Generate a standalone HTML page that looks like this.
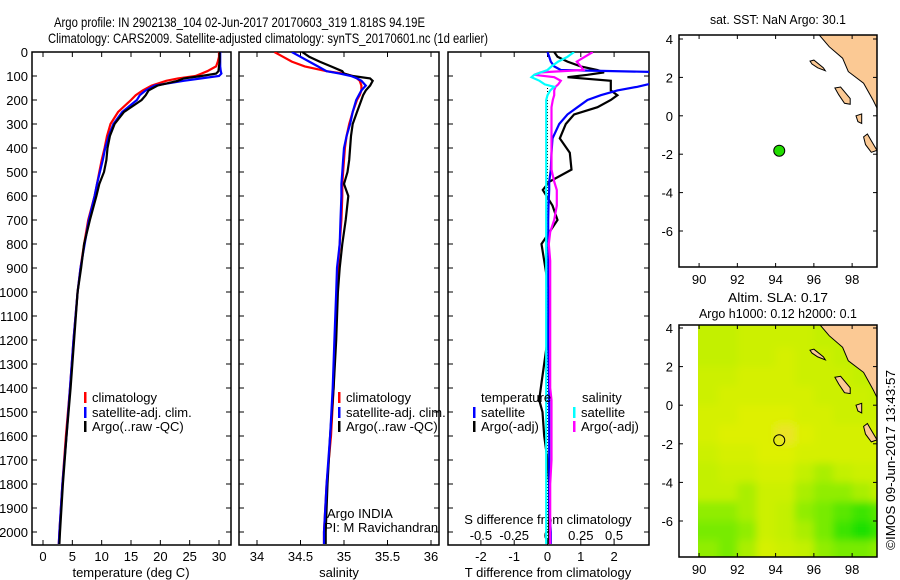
<!DOCTYPE html>
<html><head><meta charset="utf-8"><style>
html,body{margin:0;padding:0;background:#fff;}
svg{display:block;font-family:"Liberation Sans",sans-serif;}
</style></head><body>
<svg id="fig" width="900" height="580" viewBox="0 0 900 580" xmlns="http://www.w3.org/2000/svg">
<text x="54" y="27" font-size="14" textLength="371" lengthAdjust="spacingAndGlyphs">Argo profile: IN 2902138_104 02-Jun-2017 20170603_319 1.818S 94.19E</text>
<text x="48" y="43" font-size="14" textLength="440" lengthAdjust="spacingAndGlyphs">Climatology: CARS2009. Satellite-adjusted climatology: synTS_20170601.nc (1d earlier)</text>
<text x="778" y="24" font-size="13" text-anchor="middle" textLength="136" lengthAdjust="spacingAndGlyphs">sat. SST: NaN Argo: 30.1</text>
<text x="778" y="302" font-size="13" text-anchor="middle" textLength="100" lengthAdjust="spacingAndGlyphs">Altim. SLA: 0.17</text>
<text x="778" y="318" font-size="13" text-anchor="middle" textLength="158" lengthAdjust="spacingAndGlyphs">Argo h1000: 0.12 h2000: 0.1</text>
<text transform="translate(895,460) rotate(-90)" font-size="13" text-anchor="middle" textLength="180" lengthAdjust="spacingAndGlyphs">©IMOS 09-Jun-2017 13:43:57</text>
<defs><filter id="blur" x="-5%" y="-5%" width="110%" height="110%"><feGaussianBlur stdDeviation="4"/></filter></defs>
<g id="layer"></g>
</svg>
<script>
// ---------- data ----------
const depths = [0,20,40,60,80,90,100,110,120,140,160,180,200,250,300,350,400,450,500,550,600,700,800,900,1000,1200,1400,1600,1800,2000,2050];
const tempClim = [30,30,29.8,29.5,28,27,26,23,21,18.5,17,15.8,15,12.8,11.5,10.9,10.5,10,9.6,9.2,8.8,7.7,7.0,6.4,5.9,5.2,4.6,3.9,3.3,2.8,2.7];
const tempSat  = [30.2,30.2,30.2,30.2,30.3,30.4,30,27,24,19,17.5,16.5,16,13.5,12,11.2,10.6,10.2,9.7,9.2,8.8,7.8,7.1,6.4,5.9,5.2,4.6,4,3.3,2.8,2.7];
const tempArgo = [30.1,30.1,30.1,30.0,29.9,29.5,27,24,23,19.5,18,17.5,16.8,13.8,12.2,11.4,11,10.8,10.4,9.6,9.1,8,7,6.5,5.9,5.3,4.7,4,3.4,2.9,2.8];
const salClim = [34.2,34.3,34.4,34.55,34.8,35.0,35.1,35.15,35.18,35.2,35.2,35.18,35.15,35.1,35.06,35.03,35.01,35.0,34.99,34.98,34.98,34.97,34.95,34.93,34.92,34.9,34.88,34.85,34.8,34.77,34.77];
const salSat  = [34.4,34.5,34.6,34.7,34.8,34.95,35.08,35.15,35.2,35.25,35.2,35.17,35.14,35.1,35.07,35.03,35.0,34.99,34.98,34.97,34.97,34.96,34.95,34.92,34.91,34.89,34.87,34.84,34.8,34.77,34.77];
const salArgo = [34.52,34.6,34.72,34.85,34.98,35.0,35.1,35.3,35.33,35.3,35.25,35.22,35.2,35.15,35.1,35.08,35.07,35.06,35.04,35.0,35.05,35.02,34.98,34.95,34.93,34.91,34.88,34.84,34.81,34.79,34.79];

const diffDepths = [0,20,40,60,75,85,95,105,120,135,145,160,180,200,230,260,300,360,420,490,540,575,640,700,750,800,870,1000,1200,1400,1450,1500,1600,1700,1800,1900,2000,2050];
const tdSat  = [0,0.05,0.1,0.2,0.4,3.8,4,4,3.8,3,2.7,2.1,1.6,1.2,0.9,0.6,0.35,0.15,0.12,0.1,0.05,0.05,0.03,0.02,0.02,0.02,0.02,0.02,0.02,0.05,0.05,0.05,0.05,0.05,0.05,0.05,0.1,0.1];
const tdArgo = [0.2,0.3,0.6,1,1.5,1.7,1.2,0.6,1.9,1.9,1.9,1.9,2.1,1.9,1.5,0.8,0.55,0.37,0.67,0.72,0.06,-0.14,0.15,0.3,0.06,-0.18,-0.1,0.05,0,-0.2,-0.25,-0.15,-0.1,0,0.05,0.05,0.05,0.05];
const sdSat  = [0.2,0.15,0.08,0.03,0,-0.05,-0.1,-0.12,-0.06,-0.02,0.05,0.02,0,-0.01,-0.01,-0.01,-0.01,-0.01,-0.01,-0.01,-0.01,-0.01,-0.01,-0.01,-0.01,-0.01,-0.01,-0.01,-0.01,-0.01,-0.01,-0.01,-0.01,-0.01,-0.01,-0.01,-0.01,-0.01];
const sdArgo = [0.34,0.28,0.22,0.25,0.27,-0.05,-0.1,0.05,0.1,0.08,0.06,0.05,0.05,0.04,0.03,0.03,0.03,0.03,0.03,0.03,0.05,0.07,0.07,0.05,0.02,0.01,0.02,0.02,0.02,0.02,0.03,0.03,0.03,0.03,0.02,0.02,0.02,0.02];

const depthTicks = [0,100,200,300,400,500,600,700,800,900,1000,1100,1200,1300,1400,1500,1600,1700,1800,1900,2000];
const tempTicks = [0,5,10,15,20,25,30];
const salTicks = [34,34.5,35,35.5,36];
const tdTicks = [-2,-1,0,1,2];
const sdTicks = [-0.5,-0.25,0,0.25,0.5];
const sdTickLabels = ["-0.5","-0.25","0","0.25","0.5"];
const lonTicks = [90,92,94,96,98];
const latTicks = [4,2,0,-2,-4,-6];

const argoLon = 94.19, argoLat = -1.818;
const slaLons = [90,91,92,93,94,95,96,97,98,99];
const slaLats = [4,3,2,1,0,-1,-2,-3,-4,-5,-6,-7];
const slaRow4  = [.15,.15,.16,.16,.16,.16,.15,.15,.15,.15];
const slaRow3  = [.15,.15,.16,.16,.17,.16,.16,.15,.15,.15];
const slaRow2  = [.16,.16,.17,.17,.17,.16,.16,.16,.15,.15];
const slaRow1  = [.16,.17,.17,.17,.17,.17,.16,.16,.16,.15];
const slaRow0  = [.17,.17,.18,.18,.18,.17,.17,.16,.16,.16];
const slaRowM1 = [.17,.18,.18,.18,.19,.18,.17,.17,.17,.17];
const slaRowM2 = [.16,.17,.17,.18,.18,.17,.17,.17,.17,.17];
const slaRowM3 = [.15,.16,.16,.17,.17,.15,.14,.15,.16,.16];
const slaRowM4 = [.15,.15,.14,.16,.16,.14,.13,.13,.14,.15];
const slaRowM5 = [.13,.13,.14,.16,.15,.13,.12,.11,.10,.11];
const slaRowM6 = [.12,.12,.13,.16,.15,.14,.12,.10,.09,.10];
const slaRowM7 = [.13,.12,.14,.17,.16,.15,.13,.12,.12,.13];
const slaGrid = [slaRow4,slaRow3,slaRow2,slaRow1,slaRow0,slaRowM1,slaRowM2,slaRowM3,slaRowM4,slaRowM5,slaRowM6,slaRowM7];

const sumatra = [[96.2,4.3],[96.8,3.6],[97.5,3.0],[97.8,2.3],[98.6,1.7],[99.1,0.8],[99.4,0.2],[99.4,4.3]];
const simeulue = [[95.8,2.85],[96.0,2.9],[96.5,2.5],[96.6,2.35],[96.2,2.5],[95.9,2.7]];
const nias = [[97.1,1.45],[97.4,1.5],[97.9,0.9],[97.9,0.6],[97.6,0.65],[97.3,1.1]];
const batu = [[98.2,0.0],[98.5,0.1],[98.5,-0.4],[98.3,-0.3]];
const siberut = [[98.6,-1.1],[98.8,-0.95],[99.0,-1.3],[99.3,-1.8],[99.0,-1.9],[98.7,-1.5]];
const islands = [sumatra,simeulue,nias,batu,siberut];

// ---------- helpers ----------
const NS = "http://www.w3.org/2000/svg";
const layer = document.getElementById('layer');
function mk(tag, attrs, parent){ const e=document.createElementNS(NS,tag); for(const k in attrs) e.setAttribute(k,attrs[k]); (parent||layer).appendChild(e); return e; }
const TOP=52, BOT=545;
const yD = d => TOP + d*0.24;
const xT = v => 43 + v*5.867;
const xS = v => 257 + (v-34)*87;
const xTD = v => 547.5 + v*33.3;
const xSD = v => 547.5 + v*133.2;
const xLon = v => 679 + (v-88.95)*19.13;
const yLat1 = v => 39 + (4-v)*19.2;
const yLat2 = v => 328 + (4-v)*19.3;

function frame(x0,x1,name){
  const r=mk('rect',{x:x0,y:TOP,width:x1-x0,height:BOT-TOP,fill:'none',stroke:'#000','stroke-width':1.5});
  
  
}
function clip(id,x0,y0,x1,y1){
  const cp=mk('clipPath',{id:id}); mk('rect',{x:x0,y:y0,width:x1-x0,height:y1-y0},cp);
}
function profile(ds, vals, fx, color, name, clipId){
  let d='';
  vals.forEach((v,i)=>{ d += (i?'L':'M')+fx(v).toFixed(1)+','+yD(ds[i]).toFixed(1); });
  const p=mk('path',{d:d,fill:'none',stroke:color,'stroke-width':2.2,'clip-path':'url(#'+clipId+')'});
  
  
}
function label(x,y,t,name,anchor,size){
  const e=mk('text',{x:x,y:y,'font-size':size||13,'text-anchor':anchor||'middle'});
  e.textContent=t;
  
  
  return e;
}
function xticks(vals, fx, labels, name, yLab){
  vals.forEach((v,i)=>{
    const x=fx(v);
    mk('line',{x1:x,y1:BOT,x2:x,y2:BOT-5,stroke:'#000'});
    mk('line',{x1:x,y1:TOP,x2:x,y2:TOP+5,stroke:'#000'});
    label(x,yLab,labels?labels[i]:String(v),name);
  });
}

// ---------- panel frames ----------
clip('c1',32,TOP,231,BOT); clip('c2',239,TOP,439,BOT); clip('c3',448,TOP,649,BOT);
frame(32,231,'temperature-panel'); frame(239,439,'salinity-panel'); frame(448,649,'difference-panel');

depthTicks.forEach(d=>{
  const y=yD(d);
  [[32,37],[226,231],[239,244],[434,439],[448,453],[644,649]].forEach(s=>mk('line',{x1:s[0],y1:y,x2:s[1],y2:y,stroke:'#000'}));
  label(28,y+5,String(d),'depth-tick-label','end');
});
xticks(tempTicks,xT,null,'temperature-tick-label',561);
xticks(salTicks,xS,null,'salinity-tick-label',561);
xticks(tdTicks,xTD,null,'t-diff-tick-label',561);
sdTicks.forEach((v,i)=>{ label(xSD(v),540,sdTickLabels[i],'s-diff-tick-label'); });
label(131,577,'temperature (deg C)','temperature-axis-title');
label(339,577,'salinity','salinity-axis-title');
label(548,577,'T difference from climatology','t-diff-axis-title');
label(548,524,'S difference from climatology','s-diff-axis-title');

const z=mk('line',{x1:xTD(0),y1:yD(150),x2:xTD(0),y2:BOT,stroke:'#000','stroke-dasharray':'1,2'});



// ---------- profiles ----------
profile(depths,tempClim,xT,'#ff0000','temp-climatology-line','c1');
profile(depths,tempSat,xT,'#0000ff','temp-satellite-line','c1');
profile(depths,tempArgo,xT,'#000000','temp-argo-line','c1');
profile(depths,salClim,xS,'#ff0000','sal-climatology-line','c2');
profile(depths,salArgo,xS,'#000000','sal-argo-line','c2');
profile(depths,salSat,xS,'#0000ff','sal-satellite-line','c2');
profile(diffDepths,tdArgo,xTD,'#000000','t-diff-argo-line','c3');
profile(diffDepths,tdSat,xTD,'#0000ff','t-diff-satellite-line','c3');
profile(diffDepths,sdArgo,xSD,'#ff00ff','s-diff-argo-line','c3');
profile(diffDepths,sdSat,xSD,'#00ffff','s-diff-satellite-line','c3');

// ---------- legends ----------
function legendItem(x,y,color,t,name){
  mk('rect',{x:x,y:y-10,width:2.5,height:11,fill:color});
  label(x+8,y,t,name,'start');
}
[[84,'p1'],[338,'p2']].forEach(([lx,p])=>{
  legendItem(lx,402,'#ff0000','climatology',p+'-legend-climatology');
  legendItem(lx,417,'#0000ff','satellite-adj. clim.',p+'-legend-satellite');
  legendItem(lx,431,'#000000','Argo(..raw -QC)',p+'-legend-argo');
});
label(481,402,'temperature','legend-temperature-header','start');
label(582,402,'salinity','legend-salinity-header','start');
legendItem(473,417,'#0000ff','satellite','legend-t-satellite');
legendItem(473,431,'#000000','Argo(-adj)','legend-t-argo');
legendItem(573,417,'#00ffff','satellite','legend-s-satellite');
legendItem(573,431,'#ff00ff','Argo(-adj)','legend-s-argo');
label(327,518,'Argo INDIA','argo-program-label','start');
label(324,532,'PI: M Ravichandran','pi-label','start');

// ---------- maps ----------
clip('cm1',679,35,877,267);
clip('cm2',679,325,877,557);
clip('cm2h',698,325,877,557);
const m1={y0:35,y1:267,fy:yLat1,cid:'cm1',name:'sst-map'};
const m2={y0:325,y1:557,fy:yLat2,cid:'cm2',name:'sla-map'};

function slaColor(v){
  const stops=[[0.08,[0,220,0]],[0.12,[120,235,0]],[0.15,[195,240,0]],[0.18,[222,240,0]],[0.19,[235,228,40]]];
  if(v<=stops[0][0]) return 'rgb('+stops[0][1]+')';
  for(let i=1;i<stops.length;i++){ if(v<=stops[i][0]){ const a=stops[i-1],b=stops[i],t=(v-a[0])/(b[0]-a[0]); return 'rgb('+a[1].map((c,j)=>Math.round(c+(b[1][j]-c)*t)).join(',')+')'; } }
  return 'rgb('+stops[stops.length-1][1]+')';
}
const gClip=mk('g',{'clip-path':'url(#cm2h)'});
const gHeat=mk('g',{filter:'url(#blur)'},gClip);


slaGrid.forEach((row,ri)=>{
  row.forEach((v,ci)=>{
    const lon=slaLons[ci], lat=slaLats[ri];
    const x0=xLon(lon-(ci===0?1:0)), x1=xLon(lon+1+(ci===row.length-1?1:0));
    const y0=yLat2(lat+(ri===0?1:0)), y1=yLat2(lat-1-(ri===slaGrid.length-1?1:0));
    const c=mk('rect',{x:x0,y:y0,width:x1-x0+0.5,height:y1-y0+0.5,fill:slaColor(v)},gHeat);
    
    
  });
});
mk('rect',{x:xLon(98.9),y:325,width:20,height:yLat2(3.5)-325,fill:'#00d800'},gClip);

[m1,m2].forEach(m=>{
  const g=mk('g',{'clip-path':'url(#'+m.cid+')'});
  
  
  islands.forEach(poly=>{
    mk('polygon',{points:poly.map(p=>xLon(p[0]).toFixed(1)+','+m.fy(p[1]).toFixed(1)).join(' '),fill:'#fbc994',stroke:'#000','stroke-width':1},g);
  });
  const r=mk('rect',{x:679,y:m.y0,width:198,height:m.y1-m.y0,fill:'none',stroke:'#000','stroke-width':1.5});
  
  
  lonTicks.forEach(v=>{
    const x=xLon(v);
    mk('line',{x1:x,y1:m.y1,x2:x,y2:m.y1-4,stroke:'#000'});
    mk('line',{x1:x,y1:m.y0,x2:x,y2:m.y0+4,stroke:'#000'});
    label(x,m.y1+17,String(v),m.name+'-lon-label');
  });
  latTicks.forEach(v=>{
    const y=m.fy(v);
    mk('line',{x1:679,y1:y,x2:683,y2:y,stroke:'#000'});
    mk('line',{x1:873,y1:y,x2:877,y2:y,stroke:'#000'});
    label(673,y+5,String(v),m.name+'-lat-label','end');
  });
});
const d1=mk('circle',{cx:xLon(argoLon),cy:yLat1(argoLat),r:5.5,fill:'#22dd00',stroke:'#000','stroke-width':1});


const d2=mk('circle',{cx:xLon(argoLon),cy:yLat2(argoLat),r:5.5,fill:'none',stroke:'#000','stroke-width':1});


</script>
</body></html>
